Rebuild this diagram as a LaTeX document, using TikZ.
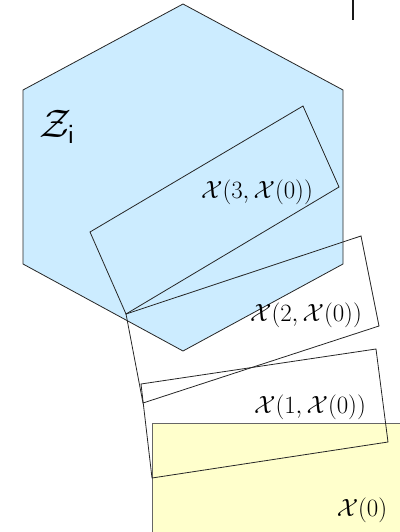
\documentclass[tikz,border=0pt]{standalone}
\usepackage{amsmath}
\usepackage{graphicx}
\begin{document}
\begin{tikzpicture}[x=1pt,y=-1pt,
  frame/.style={draw=black!85, line width=0.8pt, line join=miter},
  lbl/.style={inner sep=0pt, font=\fontsize{24}{28}\selectfont},
  bigl/.style={inner sep=0pt, font=\fontsize{24}{28}\selectfont}]
\useasboundingbox (0,0) rectangle (399,532);
% hexagon Z_i
\fill[fill={rgb,255:red,204;green,236;blue,255}, draw=black!85, line width=0.8pt]
  (183,4) -- (343,90) -- (343,264) -- (183,351) -- (23,264) -- (23,90) -- cycle;
% X(0) yellow
\fill[fill={rgb,255:red,255;green,255;blue,204}] (152,423) rectangle (402,535);
\draw[draw=black!60, line width=0.8pt] (402,423) -- (152,423) -- (152,535);
% rotated rectangles
\draw[frame] (90,232) -- (303,106) -- (339,187) -- (126,314) -- cycle;
\draw[frame] (126,314) -- (361,236) -- (379,326) -- (143,403) -- cycle;
\draw[frame] (141,384) -- (376,349) -- (388,442) -- (152,478) -- cycle;
% small mark
\draw[line width=1.6pt, black!90] (353,0) -- (353,20);
% labels
\node[bigl] (zi) at (57,127) {\scalebox{1.6}{$\mathcal{Z}_{\mathsf{i}}$}};
\node[lbl] (x3) at (257,192) {$\mathcal{X}(3,\mathcal{X}(0))$};
\node[lbl] (x2) at (306,315) {$\mathcal{X}(2,\mathcal{X}(0))$};
\node[lbl] (x1) at (310,407) {$\mathcal{X}(1,\mathcal{X}(0))$};
\node[lbl] (x0) at (362,510) {$\mathcal{X}(0)$};
\end{tikzpicture}
\end{document}
